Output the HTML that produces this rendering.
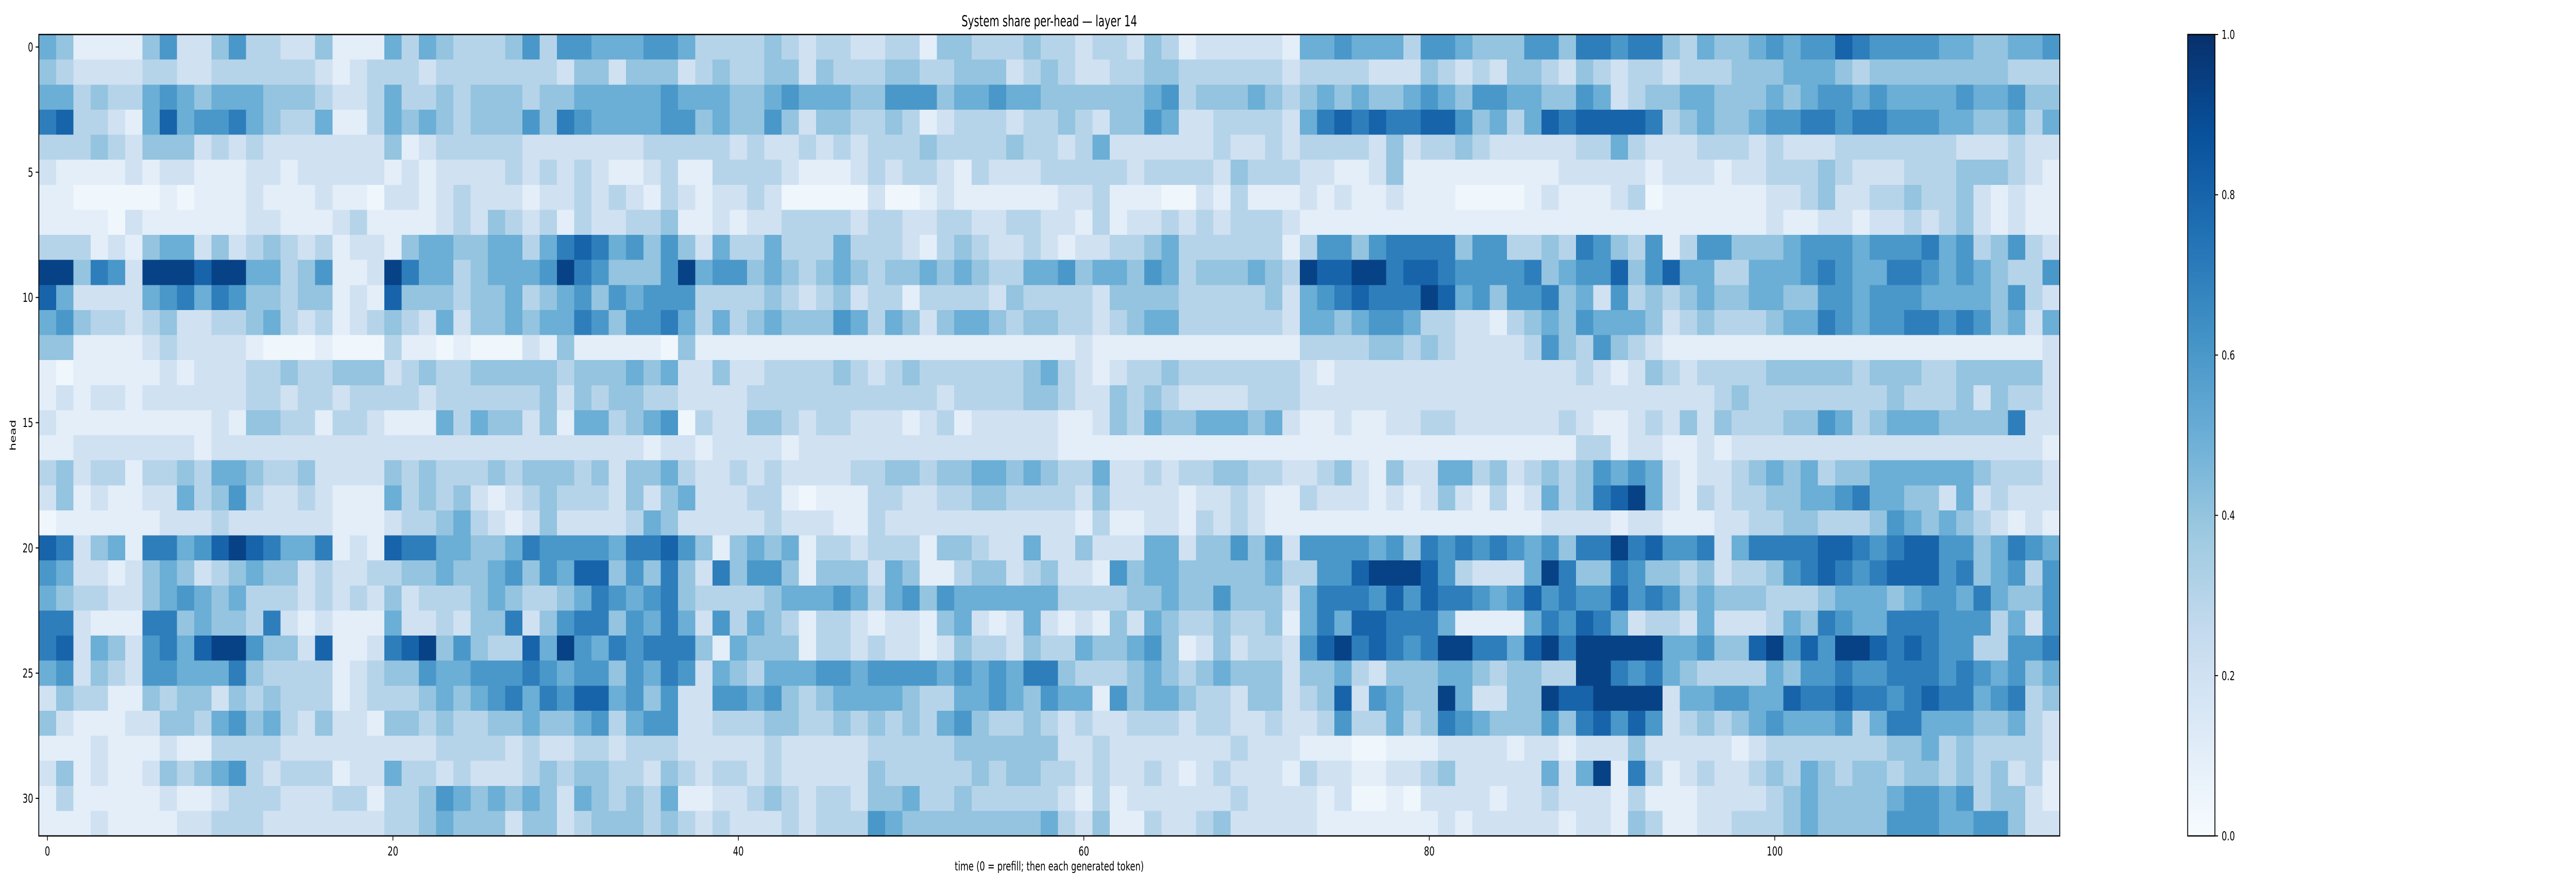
<!DOCTYPE html>
<html><head><meta charset="utf-8"><title>System share per-head — layer 14</title>
<style>
html,body{margin:0;padding:0;background:#fff;width:100%;height:100%;overflow:hidden;}
svg{display:block;position:absolute;left:0;top:0;width:100%;height:100%;font-family:"DejaVu Sans","Liberation Sans",sans-serif;}
</style></head>
<body>
<svg id="chart" xmlns="http://www.w3.org/2000/svg" viewBox="0 0 7370 1728" preserveAspectRatio="none">
<defs>
<linearGradient id="bluesGrad" x1="0" y1="1" x2="0" y2="0">
<stop offset="0" stop-color="#f7fbff"/><stop offset="0.125" stop-color="#deebf7"/><stop offset="0.25" stop-color="#c6dbef"/><stop offset="0.375" stop-color="#9ecae1"/><stop offset="0.5" stop-color="#6baed6"/><stop offset="0.625" stop-color="#4292c6"/><stop offset="0.75" stop-color="#2171b5"/><stop offset="0.875" stop-color="#08519c"/><stop offset="1" stop-color="#08306b"/>
</linearGradient>
</defs>
<rect width="7370" height="1728" fill="#fff"/>
<g id="cells" shape-rendering="crispEdges"></g>
<g id="axes"></g>
</svg>
<script>
// ---- data ----
const xTickLabels = [0, 20, 40, 60, 80, 100];
const yTickLabels = [0, 5, 10, 15, 20, 25, 30];
const cbTickLabels = [0.0, 0.2, 0.4, 0.6, 0.8, 1.0];
// share levels: each digit indexes levelValues
const levelValues = [0.04, 0.1, 0.2, 0.3, 0.4, 0.5, 0.6, 0.7, 0.8, 0.93];
const shareRows = [
"541111 462246 332241 115354 333463 665556 653333 432332 233144 333433 233243 122222 155655 536654 44664 776774 354456 566876 666554 4556",
"432222 332233 333321 233323 333333 244244 423433 442433 344334 442343 223344 333333 233332 224323 24432 432332 333444 555434 444444 4333",
"553433 565455 544432 235334 344434 455555 655544 565554 466645 565544 444456 344454 345454 456546 65544 652344 554445 456656 555565 5644",
"783321 585667 543351 135454 344464 765555 664544 642443 343123 332334 324465 223333 257878 778864 53587 888873 454456 677677 666554 4535",
"333432 444232 322222 224123 333322 222223 333323 223232 333433 334332 352222 223223 233332 423343 22222 335322 233323 222333 333322 2322",
"211112 122111 221222 221212 222323 232112 311333 321112 323321 322233 333233 332433 322112 411111 11112 222212 221223 334322 233344 4321",
"110000 010111 211121 102212 322212 232321 321223 200000 200121 111112 231110 021311 121211 211100 00121 112301 111112 234223 343342 1211",
"111102 111111 221112 311112 324323 132233 411212 233332 332233 223322 131223 232333 211111 111111 11111 111111 111112 112212 232342 1211",
"333121 455242 343231 221455 445535 787564 642533 533353 332134 322321 223345 333333 136646 777746 63343 764361 366444 566656 667563 4632",
"994762 999899 553461 129755 345556 976444 695664 543454 344545 433556 455465 344454 398899 788766 66745 668468 553355 567655 776565 4336",
"852222 567576 443441 218444 344534 564656 663333 432342 331333 324333 324444 333334 256787 779856 46674 526343 454455 446656 665555 4632",
"564332 342233 453231 234325 244545 576466 753534 544465 354245 543443 323455 333333 255456 653322 13454 655542 343334 557656 677676 4525",
"441111 232222 100010 003110 100021 411111 041111 111111 111111 111111 211111 111111 133334 434322 22364 364321 111111 111111 111111 1112",
"101111 121222 334334 442343 344444 344454 522422 333343 234333 333453 212334 333333 321222 222222 22222 321243 233334 444434 443344 4442",
"121221 222222 332332 333323 333334 243443 322223 333333 333323 333443 224343 222233 322222 222222 22222 222222 223433 333333 433342 4332",
"211111 111121 443313 321115 354424 155345 603224 432332 221231 222221 124354 455545 211211 223322 22223 211232 424333 446534 555444 4722",
"112222 222122 222222 222222 222222 222221 221222 212222 222222 222221 111111 111111 111111 111111 11111 331221 121222 222222 222222 2221",
"342331 334355 433422 224343 334344 434244 532232 322223 344344 554543 352232 334433 223421 422553 42343 465652 122345 453445 555554 3332",
"241211 225346 322321 115343 421234 333242 452223 310111 332233 443333 242222 122321 132221 212421 31253 478952 132334 455675 544252 3222",
"011111 122232 222221 112334 532124 222235 422222 322211 322222 222222 131122 132321 111111 111111 11122 221221 112233 443334 654543 2121",
"872451 775689 875571 218775 544576 666577 864145 451332 333144 322522 422255 244646 266665 647676 76564 779786 672577 778876 788664 5765",
"652212 454234 544232 233445 445646 588464 742746 641444 254113 442342 216455 444445 336689 998632 22597 447644 342334 678767 888674 5636",
"543322 456545 333232 324233 345433 457656 743333 455565 356465 555553 333445 446444 257776 868776 56867 668676 454443 334555 456657 5446",
"772111 774544 372121 115223 244724 677465 752635 431332 122145 212521 214254 334334 157588 777511 11576 875233 252223 547655 777666 3526",
"782542 675899 644281 127894 643385 965767 774154 441332 322124 332433 544564 124233 268978 767997 75897 999995 564489 686998 787663 3667",
"562432 665557 433331 234465 566676 566465 762543 555665 666656 565774 333454 345444 244532 444554 34433 997675 433335 466766 777676 5645",
"243311 434424 343331 233345 456757 688564 622665 643455 554335 565465 516455 433244 234826 544952 24498 899992 556655 877877 678775 6734",
"421112 244356 453242 214434 334454 456356 622333 443343 434356 433432 322333 233223 223633 534765 44464 786862 343456 555635 775554 4532",
"111211 121133 332222 222223 333232 233233 322222 322222 333334 444442 232222 222322 211100 111222 21221 222422 222123 333333 445343 3332",
"241211 243456 323331 225332 322234 344332 432332 322222 433333 434433 232232 123222 132211 223422 22252 591731 232234 354344 344343 4231",
"131111 121123 332223 313346 545454 254343 511223 432332 445334 333332 131222 222322 221200 102222 12232 221311 122223 454444 566563 4421",
"111211 112233 322222 223345 444244 234443 432322 232333 654444 444453 241132 234222 221111 111212 22221 221431 122333 454444 666556 6422"
];

// ---- geometry ----
const NS = "http://www.w3.org/2000/svg";
const plotL = 111, plotT = 67, plotW = 5782, plotH = 1556;
const cbL = 6259, cbW = 78;

const grid = shareRows.map(r => r.replace(/\s+/g, "").split("").map(c => levelValues[+c]));
const nRows = grid.length;
const nCols = 117;
const cellW = plotW / nCols, cellH = plotH / nRows;
function xScale(t) { return plotL + t * cellW; }
function yScale(h) { return plotT + h * cellH; }
function cbScale(v) { return plotT + plotH - v * plotH; }

const blues = ["#f7fbff","#deebf7","#c6dbef","#9ecae1","#6baed6","#4292c6","#2171b5","#08519c","#08306b"];
function hex(c){return [parseInt(c.slice(1,3),16),parseInt(c.slice(3,5),16),parseInt(c.slice(5,7),16)];}
function colorFor(v) {
  v = Math.max(0, Math.min(1, v));
  const p = v * 8, i = Math.min(7, Math.floor(p)), f = p - i;
  const a = hex(blues[i]), b = hex(blues[i + 1]);
  return "rgb(" + a.map((x, k) => Math.round(x + (b[k] - x) * f)).join(",") + ")";
}
function mk(tag, attrs, parent) {
  const el = document.createElementNS(NS, tag);
  for (const k in attrs) el.setAttribute(k, attrs[k]);
  parent.appendChild(el);
  return el;
}

const cells = document.getElementById("cells");
grid.forEach((row, h) => {
  row.slice(0, nCols).forEach((v, t) => {
    const r = mk("rect", {x: xScale(t).toFixed(2), y: yScale(h).toFixed(2), width: (cellW + 0.6).toFixed(2), height: (cellH + 0.6).toFixed(2), fill: colorFor(v)}, cells);
    
    
  });
});

const axes = document.getElementById("axes");
const frame = mk("rect", {x: plotL, y: plotT, width: plotW, height: plotH, fill: "none", stroke: "#000", "stroke-width": 2.5}, axes);



xTickLabels.forEach(t => {
  const x = xScale(t + 0.5);
  const ln = mk("line", {x1: x, y1: plotT + plotH, x2: x, y2: plotT + plotH + 9, stroke: "#000", "stroke-width": 2}, axes);
  
  
  const tx = mk("text", {x: x, y: plotT + plotH + 38, "font-size": 24, "text-anchor": "middle", fill: "#000"}, axes);
  tx.textContent = t;
  
  
});
yTickLabels.forEach(h => {
  const y = yScale(h + 0.5);
  const ln = mk("line", {x1: plotL - 9, y1: y, x2: plotL, y2: y, stroke: "#000", "stroke-width": 2}, axes);
  
  
  const tx = mk("text", {x: plotL - 16, y: y + 8.5, "font-size": 24, "text-anchor": "end", fill: "#000"}, axes);
  tx.textContent = h;
  
  
});

const title = mk("text", {x: plotL + plotW / 2, y: 51, "font-size": 29, "text-anchor": "middle", fill: "#000"}, axes);
title.textContent = "System share per-head — layer 14";



const xl = mk("text", {x: plotL + plotW / 2, y: 1690, "font-size": 24, "text-anchor": "middle", fill: "#000"}, axes);
xl.textContent = "time (0 = prefill; then each generated token)";



const yl = mk("text", {x: 45, y: plotT + plotH / 2, "font-size": 24, "text-anchor": "middle", fill: "#000", transform: "rotate(-90 45 " + (plotT + plotH / 2) + ")"}, axes);
yl.textContent = "head";



// colorbar
const cb = mk("rect", {x: cbL, y: plotT, width: cbW, height: plotH, fill: "url(#bluesGrad)", stroke: "#000", "stroke-width": 2.5}, axes);


cbTickLabels.forEach(v => {
  const y = cbScale(v);
  const ln = mk("line", {x1: cbL + cbW, y1: y, x2: cbL + cbW + 9, y2: y, stroke: "#000", "stroke-width": 2}, axes);
  
  
  const tx = mk("text", {x: cbL + cbW + 19, y: y + 8.5, "font-size": 24, "text-anchor": "start", fill: "#000"}, axes);
  tx.textContent = v.toFixed(1);
  
  
});
</script>
</body></html>
